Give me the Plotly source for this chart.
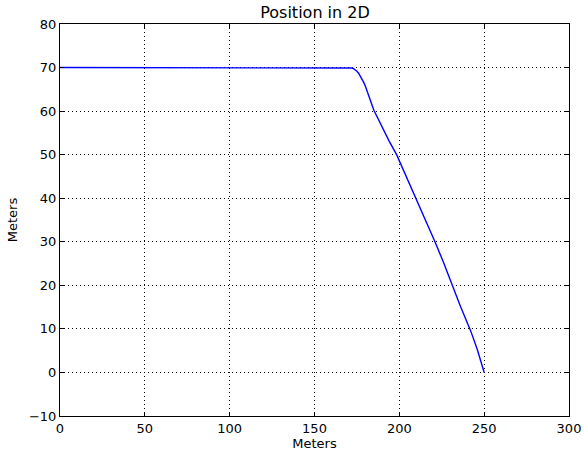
import plotly.graph_objects as go

x_m = [0, 50, 100, 150, 170, 171, 172, 173, 174, 175, 176, 177, 178, 179, 180, 181, 182, 183, 184, 185, 187, 190, 194, 198.4, 204, 209.6, 215, 221, 226, 231.2, 236, 242, 246, 250]
y_m = [70, 70, 70, 70, 70, 69.97, 69.9, 69.75, 69.5, 69.15, 68.7, 68.1, 67.4, 66.6, 65.7, 64.7, 63.6, 62.5, 61.3, 60.2, 58.6, 56.2, 53.1, 50.0, 45.1, 40.0, 35.2, 30.0, 25.3, 20.0, 15.2, 9.6, 5.2, 0.0]

xticks = [0, 50, 100, 150, 200, 250, 300]
yticks = [-10, 0, 10, 20, 30, 40, 50, 60, 70, 80]

fig = go.Figure()
fig.add_trace(go.Scatter(x=x_m, y=y_m, mode="lines",
                         line=dict(color="#0000ff", width=1.4),
                         showlegend=False))

font = dict(family="DejaVu Sans", size=13, color="black")
axis_common = dict(showline=True, linecolor="black", linewidth=1, mirror="ticks",
                   ticks="inside", ticklen=4, tickcolor="black",
                   showgrid=True, gridcolor="black", gridwidth=1, griddash="1px,3px",
                   zeroline=False, tickfont=font, automargin=False)

fig.update_layout(
    width=584, height=459,
    margin=dict(l=60, r=15, t=24, b=43),
    paper_bgcolor="white", plot_bgcolor="white",
    title=dict(text="Position in 2D", x=315 / 584, xanchor="center", xref="container",
               y=1 - 12 / 459, yref="container", yanchor="middle", automargin=False,
               font=dict(family="DejaVu Sans", size=16, color="black")),
    xaxis=dict(range=[0, 300], tickvals=xticks, title=dict(text="Meters", font=font, standoff=4), **axis_common),
    yaxis=dict(range=[-10, 80], tickvals=yticks, title=dict(text="Meters", font=font, standoff=8), **axis_common),
)

fig.write_html("out.html", config={"displayModeBar": False},
               post_script="document.body.style.margin='0px';")
